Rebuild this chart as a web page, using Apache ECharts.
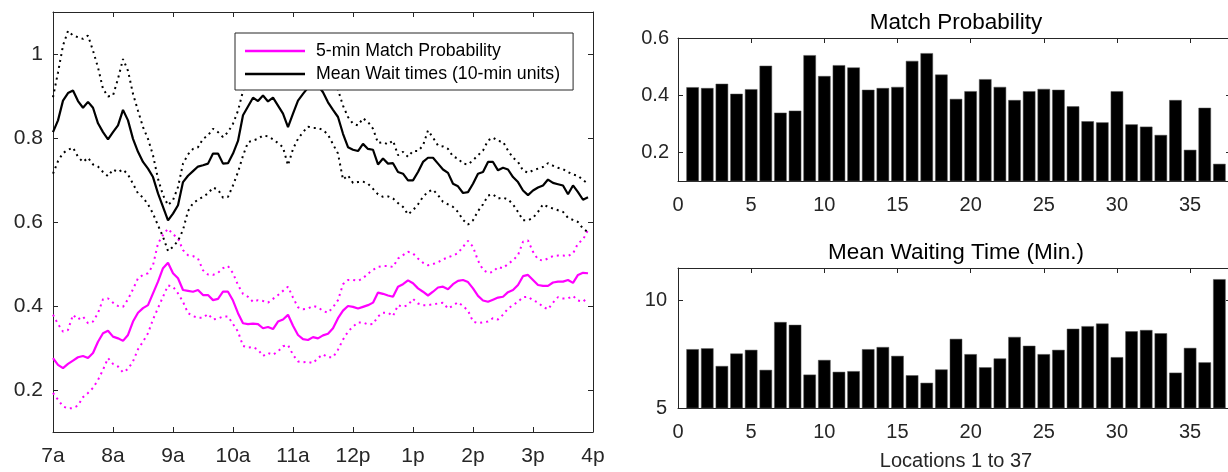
<!DOCTYPE html>
<html><head><meta charset="utf-8">
<script src="https://cdn.jsdelivr.net/npm/echarts@6/dist/echarts.min.js"></script>
<style>html,body{margin:0;padding:0;width:1228px;height:472px;overflow:hidden;background:#fff}#c{width:1240px;height:472px}</style>
</head><body><div id="c"></div><script>
// ---- data ----
const timeTickLabels = ['7a','8a','9a','10a','11a','12p','1p','2p','3p','4p'];
const timeTickHours = [7,8,9,10,11,12,13,14,15,16];
const leftYTicks = [0.2,0.4,0.6,0.8,1];
const startHour = 7;
const stepMinutes = 5;

const matchProb = [0.276,0.260,0.252,0.262,0.270,0.278,0.281,0.276,0.288,0.315,0.335,0.341,0.327,0.323,0.317,0.331,0.363,0.384,0.395,0.402,0.430,0.458,0.490,0.503,0.478,0.466,0.438,0.436,0.434,0.438,0.426,0.426,0.414,0.417,0.434,0.434,0.413,0.383,0.359,0.357,0.358,0.357,0.347,0.350,0.345,0.363,0.368,0.379,0.353,0.331,0.321,0.319,0.326,0.323,0.330,0.334,0.347,0.371,0.389,0.400,0.398,0.394,0.398,0.402,0.408,0.432,0.429,0.425,0.422,0.446,0.452,0.461,0.454,0.442,0.434,0.425,0.434,0.444,0.446,0.440,0.452,0.460,0.462,0.457,0.442,0.424,0.413,0.410,0.415,0.420,0.422,0.433,0.438,0.450,0.471,0.474,0.462,0.450,0.448,0.448,0.456,0.458,0.458,0.462,0.455,0.474,0.479,0.478];
const matchProbHi = [0.379,0.357,0.339,0.343,0.379,0.368,0.375,0.359,0.363,0.383,0.416,0.418,0.408,0.400,0.398,0.416,0.440,0.466,0.474,0.478,0.497,0.549,0.569,0.584,0.571,0.561,0.533,0.521,0.519,0.513,0.485,0.475,0.474,0.479,0.490,0.495,0.478,0.450,0.429,0.422,0.410,0.414,0.412,0.408,0.417,0.426,0.436,0.446,0.420,0.397,0.392,0.394,0.400,0.397,0.388,0.384,0.397,0.414,0.452,0.462,0.462,0.460,0.466,0.477,0.486,0.493,0.495,0.495,0.493,0.513,0.521,0.529,0.525,0.513,0.503,0.497,0.500,0.504,0.511,0.516,0.520,0.526,0.541,0.555,0.541,0.508,0.486,0.479,0.481,0.493,0.490,0.500,0.509,0.521,0.553,0.556,0.529,0.511,0.508,0.513,0.519,0.520,0.520,0.519,0.525,0.549,0.558,0.581];
const matchProbLo = [0.193,0.177,0.161,0.156,0.157,0.163,0.183,0.193,0.205,0.224,0.248,0.276,0.262,0.256,0.242,0.250,0.268,0.297,0.315,0.335,0.368,0.395,0.422,0.449,0.446,0.430,0.410,0.383,0.376,0.372,0.372,0.381,0.368,0.370,0.375,0.375,0.357,0.339,0.305,0.301,0.302,0.296,0.281,0.288,0.284,0.292,0.304,0.307,0.284,0.268,0.266,0.267,0.264,0.276,0.285,0.278,0.278,0.296,0.320,0.339,0.351,0.361,0.361,0.356,0.357,0.375,0.384,0.384,0.376,0.402,0.398,0.402,0.417,0.406,0.402,0.402,0.404,0.406,0.408,0.394,0.401,0.409,0.400,0.389,0.363,0.359,0.361,0.363,0.371,0.368,0.379,0.394,0.402,0.410,0.421,0.422,0.414,0.408,0.398,0.392,0.408,0.421,0.418,0.418,0.424,0.413,0.410,0.421];
const meanWait = [0.814,0.842,0.889,0.907,0.913,0.888,0.872,0.886,0.872,0.835,0.814,0.797,0.814,0.830,0.867,0.842,0.798,0.767,0.743,0.727,0.707,0.668,0.636,0.604,0.620,0.640,0.695,0.710,0.721,0.732,0.735,0.739,0.763,0.763,0.739,0.740,0.763,0.793,0.854,0.875,0.896,0.888,0.901,0.887,0.896,0.877,0.858,0.826,0.858,0.889,0.905,0.920,0.930,0.925,0.909,0.885,0.867,0.850,0.810,0.778,0.772,0.769,0.786,0.774,0.772,0.737,0.751,0.739,0.740,0.719,0.715,0.699,0.699,0.719,0.743,0.753,0.753,0.739,0.725,0.717,0.691,0.685,0.669,0.671,0.691,0.715,0.719,0.743,0.743,0.723,0.729,0.725,0.707,0.695,0.675,0.664,0.675,0.682,0.687,0.701,0.693,0.690,0.687,0.666,0.687,0.671,0.653,0.659];
const meanWaitHi = [0.897,0.956,1.020,1.055,1.044,1.040,1.036,1.044,1.008,0.968,0.917,0.899,0.901,0.941,0.988,0.960,0.905,0.865,0.826,0.798,0.759,0.703,0.664,0.640,0.652,0.683,0.739,0.761,0.774,0.778,0.798,0.806,0.822,0.814,0.802,0.814,0.834,0.865,0.912,0.945,0.965,0.960,0.970,0.960,0.965,0.950,0.935,0.925,0.950,0.980,1.000,1.010,1.020,1.010,0.990,0.960,0.935,0.915,0.877,0.850,0.834,0.830,0.847,0.838,0.822,0.788,0.790,0.785,0.794,0.759,0.767,0.755,0.769,0.769,0.782,0.818,0.801,0.782,0.780,0.774,0.756,0.751,0.739,0.737,0.747,0.759,0.770,0.794,0.801,0.793,0.791,0.770,0.753,0.743,0.723,0.717,0.723,0.727,0.731,0.740,0.734,0.729,0.726,0.719,0.713,0.710,0.700,0.691];
const meanWaitLo = [0.715,0.745,0.764,0.772,0.777,0.755,0.743,0.753,0.737,0.732,0.719,0.709,0.725,0.719,0.725,0.713,0.691,0.668,0.658,0.642,0.620,0.592,0.565,0.531,0.541,0.555,0.581,0.626,0.645,0.653,0.660,0.668,0.682,0.677,0.658,0.660,0.687,0.719,0.758,0.790,0.794,0.798,0.806,0.804,0.797,0.788,0.778,0.735,0.774,0.798,0.814,0.827,0.824,0.824,0.819,0.808,0.785,0.763,0.701,0.711,0.693,0.695,0.696,0.691,0.679,0.666,0.660,0.661,0.656,0.645,0.636,0.618,0.628,0.642,0.660,0.672,0.677,0.664,0.648,0.642,0.636,0.624,0.605,0.594,0.604,0.626,0.642,0.663,0.666,0.656,0.658,0.654,0.642,0.624,0.604,0.604,0.610,0.624,0.642,0.636,0.632,0.628,0.624,0.610,0.605,0.600,0.584,0.576];

const locations = [1,2,3,4,5,6,7,8,9,10,11,12,13,14,15,16,17,18,19,20,21,22,23,24,25,26,27,28,29,30,31,32,33,34,35,36,37];
const locMatchProb = [0.428,0.425,0.440,0.405,0.421,0.503,0.339,0.346,0.540,0.467,0.505,0.497,0.419,0.425,0.429,0.520,0.547,0.472,0.387,0.414,0.456,0.429,0.383,0.414,0.422,0.419,0.361,0.309,0.305,0.414,0.298,0.290,0.261,0.383,0.209,0.356,0.160];
const locWaitMin = [7.73,7.77,6.95,7.53,7.70,6.77,8.99,8.86,6.55,7.23,6.68,6.71,7.73,7.83,7.42,6.52,6.17,6.79,8.21,7.50,6.89,7.30,8.30,7.89,7.50,7.70,8.68,8.80,8.92,7.36,8.56,8.62,8.47,6.64,7.79,7.12,10.98];
const locXTicks = [0,5,10,15,20,25,30,35];
const probYTicks = [0.2,0.4,0.6];
const waitYTicks = [5,10];

// ---- chart ----
const FONT = '"Liberation Sans", Arial, Helvetica, sans-serif';
const AX = '#262626';
const toPairs = arr => arr.map((v, i) => [startHour + i * stepMinutes / 60, v]);

function axis(o) {
  const base = {
    type: 'value',
    axisLine: { show: true, onZero: false, lineStyle: { color: AX, width: 1 } },
    axisTick: { show: true, inside: true, length: 5, lineStyle: { color: AX } },
    splitLine: { show: false },
    axisLabel: { show: false }
  };
  return Object.assign(base, o);
}
function lbl(size, margin, extra) {
  return Object.assign({ show: true, color: AX, fontSize: size, fontFamily: FONT, margin: margin }, extra || {});
}
function ticks(vals, len) {
  return { show: true, inside: true, length: len || 5, lineStyle: { color: AX }, customValues: vals };
}

const chart = echarts.init(document.getElementById('c'), null, { renderer: 'canvas' });
chart.setOption({
  animation: false,
  backgroundColor: '#fff',
  title: [
    { text: 'Match Probability', left: 956, top: 11, textAlign: 'center', padding: 0,
      textStyle: { fontSize: 22.5, fontWeight: 'normal', color: '#000', fontFamily: FONT } },
    { text: 'Mean Waiting Time (Min.)', left: 956, top: 241, textAlign: 'center', padding: 0,
      textStyle: { fontSize: 22.5, fontWeight: 'normal', color: '#000', fontFamily: FONT } }
  ],
  legend: {
    data: ['5-min Match Probability', 'Mean Wait times (10-min units)'],
    orient: 'vertical', left: 235, top: 33,
    padding: [9, 13, 7, 10], itemGap: 5, itemWidth: 60, itemHeight: 2.5, icon: 'rect',
    backgroundColor: '#fff', borderColor: AX, borderWidth: 1, borderRadius: 0,
    textStyle: { fontSize: 17.7, color: '#000', fontFamily: FONT, padding: [0, 0, 0, 6] }
  },
  grid: [
    { left: 53, top: 12, width: 540, height: 420 },
    { left: 678, top: 38, width: 556, height: 143 },
    { left: 678, top: 268, width: 556, height: 143 }
  ],
  xAxis: [
    axis({ gridIndex: 0, position: 'bottom', min: 7, max: 16, axisTick: ticks(timeTickHours),
      axisLabel: lbl(21, 14, { customValues: timeTickHours, formatter: v => timeTickLabels[timeTickHours.indexOf(Math.round(v))] }) }),
    axis({ gridIndex: 0, position: 'top', min: 7, max: 16, axisTick: ticks(timeTickHours) }),
    axis({ gridIndex: 1, position: 'bottom', min: 0, max: 38, axisTick: ticks(locXTicks),
      axisLabel: lbl(20, 14, { customValues: locXTicks }) }),
    axis({ gridIndex: 1, position: 'top', min: 0, max: 38, axisTick: ticks(locXTicks) }),
    axis({ gridIndex: 2, position: 'bottom', min: 0, max: 38,
      name: 'Locations 1 to 37', nameLocation: 'middle', nameGap: 43,
      nameTextStyle: { fontSize: 20, color: AX, fontFamily: FONT },
      axisTick: ticks(locXTicks),
      axisLabel: lbl(20, 14, { customValues: locXTicks }) }),
    axis({ gridIndex: 2, position: 'top', min: 0, max: 38, axisTick: ticks(locXTicks) })
  ],
  yAxis: [
    axis({ gridIndex: 0, position: 'left', min: 0.1, max: 1.1, axisTick: ticks(leftYTicks),
      axisLabel: lbl(21, 10, { customValues: leftYTicks }) }),
    axis({ gridIndex: 0, position: 'right', min: 0.1, max: 1.1, axisTick: ticks(leftYTicks) }),
    axis({ gridIndex: 1, position: 'left', min: 0.1, max: 0.6, axisTick: ticks(probYTicks),
      axisLabel: lbl(20, 9, { customValues: probYTicks }) }),
    axis({ gridIndex: 1, position: 'right', min: 0.1, max: 0.6, axisTick: ticks(probYTicks, 8) }),
    axis({ gridIndex: 2, position: 'left', min: 5, max: 11.5, axisTick: ticks(waitYTicks),
      axisLabel: lbl(20, 11, { customValues: waitYTicks }) }),
    axis({ gridIndex: 2, position: 'right', min: 5, max: 11.5, axisTick: ticks(waitYTicks, 8) })
  ],
  series: [
    { name: 'mp-hi', type: 'line', xAxisIndex: 0, yAxisIndex: 0, data: toPairs(matchProbHi), symbol: 'none',
      lineStyle: { color: '#ff00ff', width: 2, type: [2, 4] }, z: 2 },
    { name: 'mp-lo', type: 'line', xAxisIndex: 0, yAxisIndex: 0, data: toPairs(matchProbLo), symbol: 'none',
      lineStyle: { color: '#ff00ff', width: 2, type: [2, 4] }, z: 2 },
    { name: 'mw-hi', type: 'line', xAxisIndex: 0, yAxisIndex: 0, data: toPairs(meanWaitHi), symbol: 'none',
      lineStyle: { color: '#000', width: 2, type: [2, 4] }, z: 2 },
    { name: 'mw-lo', type: 'line', xAxisIndex: 0, yAxisIndex: 0, data: toPairs(meanWaitLo), symbol: 'none',
      lineStyle: { color: '#000', width: 2, type: [2, 4] }, z: 2 },
    { name: '5-min Match Probability', type: 'line', xAxisIndex: 0, yAxisIndex: 0, data: toPairs(matchProb), symbol: 'none',
      itemStyle: { color: '#ff00ff' }, lineStyle: { color: '#ff00ff', width: 2.2 }, z: 3 },
    { name: 'Mean Wait times (10-min units)', type: 'line', xAxisIndex: 0, yAxisIndex: 0, data: toPairs(meanWait), symbol: 'none',
      itemStyle: { color: '#000' }, lineStyle: { color: '#000', width: 2.2 }, z: 3 },
    { name: 'loc-mp', type: 'bar', xAxisIndex: 2, yAxisIndex: 2, barWidth: 12.5,
      data: locations.map((l, i) => [l, locMatchProb[i]]),
      itemStyle: { color: '#000', borderColor: '#555', borderWidth: 0.5 } },
    { name: 'loc-mw', type: 'bar', xAxisIndex: 4, yAxisIndex: 4, barWidth: 12.5,
      data: locations.map((l, i) => [l, locWaitMin[i]]),
      itemStyle: { color: '#000', borderColor: '#555', borderWidth: 0.5 } }
  ]
});
</script></body></html>
